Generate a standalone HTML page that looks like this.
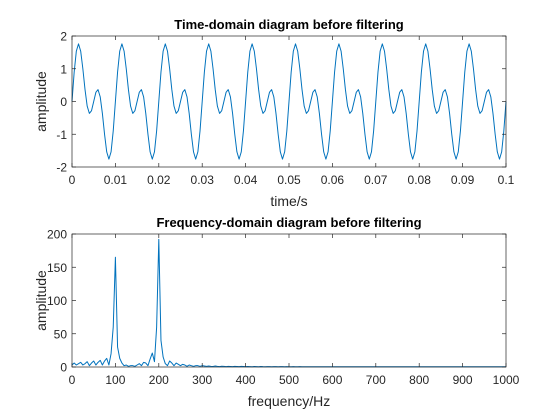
<!DOCTYPE html>
<html><head><meta charset="utf-8"><style>
html,body{margin:0;padding:0;background:#fff;}
svg{display:block;font-family:"Liberation Sans",Arial,sans-serif;}
</style></head><body>
<svg id="fig" width="560" height="420" viewBox="0 0 560 420">
<rect x="0" y="0" width="560" height="420" fill="#fff"/>
<g id="top"></g>
<g id="bot"></g>
</svg>
<script>
// Time-domain data (sample step 0.0005 s)
const timeStep = 0.0005;
const timeValues = [
0,0.897,1.539,1.760,1.539,1,0.363,-0.142,-0.363,-0.279,0,0.279,0.363,0.142,-0.363,-1,-1.539,-1.760,-1.539,-0.897,
0,0.897,1.539,1.760,1.539,1,0.363,-0.142,-0.363,-0.279,0,0.279,0.363,0.142,-0.363,-1,-1.539,-1.760,-1.539,-0.897,
0,0.897,1.539,1.760,1.539,1,0.363,-0.142,-0.363,-0.279,0,0.279,0.363,0.142,-0.363,-1,-1.539,-1.760,-1.539,-0.897,
0,0.897,1.539,1.760,1.539,1,0.363,-0.142,-0.363,-0.279,0,0.279,0.363,0.142,-0.363,-1,-1.539,-1.760,-1.539,-0.897,
0,0.897,1.539,1.760,1.539,1,0.363,-0.142,-0.363,-0.279,0,0.279,0.363,0.142,-0.363,-1,-1.539,-1.760,-1.539,-0.897,
0,0.897,1.539,1.760,1.539,1,0.363,-0.142,-0.363,-0.279,0,0.279,0.363,0.142,-0.363,-1,-1.539,-1.760,-1.539,-0.897,
0,0.897,1.539,1.760,1.539,1,0.363,-0.142,-0.363,-0.279,0,0.279,0.363,0.142,-0.363,-1,-1.539,-1.760,-1.539,-0.897,
0,0.897,1.539,1.760,1.539,1,0.363,-0.142,-0.363,-0.279,0,0.279,0.363,0.142,-0.363,-1,-1.539,-1.760,-1.539,-0.897,
0,0.897,1.539,1.760,1.539,1,0.363,-0.142,-0.363,-0.279,0,0.279,0.363,0.142,-0.363,-1,-1.539,-1.760,-1.539,-0.897,
0,0.897,1.539,1.760,1.539,1,0.363,-0.142,-0.363,-0.279,0,0.279,0.363,0.142,-0.363,-1,-1.539,-1.760,-1.539,-0.897,
0];
const timeXTicks = [0,0.01,0.02,0.03,0.04,0.05,0.06,0.07,0.08,0.09,0.1];
const timeYTicks = [-2,-1,0,1,2];
// Frequency-domain data (step 5 Hz)
const freqStep = 5;
const freqValues = [
3,6,3,5,7,3,5,8,2,6,9,3,7,10,3,9,13,3,20,60,
165,30,13,6,2,3,1,2,2,1,3,5,2,7,6,2,12,21,8,60,
192,40,15,5,2,9,6,2,6,4,2,4,3,1,3,2,1,2,2,1,
2,1.5,1,1.5,1,0.8,1.5,1,0.6,1.2,1,0.6,1,0.8,0.5,1,0.8,0.5,0.9,0.7,
0.5,0.8,0.6,0.4,0.7,0.6,0.4,0.7,0.5,0.4,0.6,0.5,0.4,0.6,0.5,0.3,0.5,0.5,0.3,0.5,
0.4,0.3,0.5,0.4,0.3,0.5,0.4,0.3,0.4,0.4,0.3,0.4,0.4,0.3,0.4,0.4,0.3,0.4,0.3,0.3,
0.4,0.3,0.3,0.4,0.3,0.3,0.4,0.3,0.3,0.4,0.3,0.3,0.3,0.3,0.3,0.3,0.3,0.3,0.3,0.3,
0.3,0.3,0.3,0.3,0.3,0.3,0.3,0.3,0.3,0.3,0.3,0.3,0.3,0.3,0.3,0.3,0.3,0.3,0.3,0.3,
0.3,0.3,0.3,0.3,0.3,0.3,0.3,0.3,0.3,0.3,0.3,0.3,0.3,0.3,0.3,0.3,0.3,0.3,0.3,0.3,
0.3,0.3,0.3,0.3,0.3,0.3,0.3,0.3,0.3,0.3,0.3,0.3,0.3,0.3,0.3,0.3,0.3,0.3,0.3,0.3,
0.3];
const freqXTicks = [0,100,200,300,400,500,600,700,800,900,1000];
const freqYTicks = [0,50,100,150,200];

const NS = "http://www.w3.org/2000/svg";
function mk(parent, tag, attrs){
  const e = document.createElementNS(NS, tag);
  for (const k in attrs) e.setAttribute(k, attrs[k]);
  parent.appendChild(e);
  return e;
}
function drawAxes(g, box, xd, yd, xTicks, yTicks, title, xlabel, ylabel, xs, ys, prefix){
  const sx = v => box.x + (v - xd[0]) / (xd[1] - xd[0]) * box.w;
  const sy = v => box.y + box.h - (v - yd[0]) / (yd[1] - yd[0]) * box.h;
  const bg = mk(g, 'rect', {x:box.x, y:box.y, width:box.w, height:box.h, fill:'#fff'});
  
  
  let d = '';
  for (let i = 0; i < xs.length; i++) d += (i ? 'L' : 'M') + sx(xs[i]).toFixed(2) + ' ' + sy(ys[i]).toFixed(2);
  const line = mk(g, 'path', {d:d, fill:'none', stroke:'#0072BD', 'stroke-width':1, 'stroke-linejoin':'round'});
  
  
  const frame = mk(g, 'rect', {x:box.x, y:box.y, width:box.w, height:box.h, fill:'none', stroke:'#262626', 'stroke-width':0.7});
  
  
  xTicks.forEach(t => {
    const x = sx(t);
    mk(g, 'line', {x1:x, y1:box.y+box.h, x2:x, y2:box.y+box.h-4, stroke:'#262626', 'stroke-width':0.7});
    mk(g, 'line', {x1:x, y1:box.y, x2:x, y2:box.y+4, stroke:'#262626', 'stroke-width':0.7});
    const tx = mk(g, 'text', {x:x, y:box.y+box.h+17, 'text-anchor':'middle', 'font-size':12, fill:'#262626'});
    tx.textContent = String(t);
    
    
  });
  yTicks.forEach(t => {
    const y = sy(t);
    mk(g, 'line', {x1:box.x, y1:y, x2:box.x+4, y2:y, stroke:'#262626', 'stroke-width':0.7});
    mk(g, 'line', {x1:box.x+box.w, y1:y, x2:box.x+box.w-4, y2:y, stroke:'#262626', 'stroke-width':0.7});
    const ty = mk(g, 'text', {x:box.x-5, y:y+4.5, 'text-anchor':'end', 'font-size':12, fill:'#262626'});
    ty.textContent = String(t);
    
    
  });
  const tt = mk(g, 'text', {x:box.x+box.w/2, y:box.y-7, 'text-anchor':'middle', 'font-size':13, 'font-weight':'bold', fill:'#000'});
  tt.textContent = title;
  
  
  const xl = mk(g, 'text', {x:box.x+box.w/2, y:box.y+box.h+39, 'text-anchor':'middle', 'font-size':14, fill:'#262626'});
  xl.textContent = xlabel;
  
  
  const cy = box.y + box.h/2;
  const yl = mk(g, 'text', {x:46, y:cy, 'text-anchor':'middle', 'font-size':14, fill:'#262626', transform:'rotate(-90 46 '+cy+')'});
  yl.textContent = ylabel;
  
  
}
const tx = timeValues.map((v,i) => i*timeStep);
drawAxes(document.getElementById('top'), {x:72,y:36,w:434,h:131}, [0,0.1], [-2,2],
  timeXTicks, timeYTicks, 'Time-domain diagram before filtering', 'time/s', 'amplitude', tx, timeValues, 'time');
const fx = freqValues.map((v,i) => i*freqStep);
drawAxes(document.getElementById('bot'), {x:72,y:234,w:434,h:133}, [0,1000], [0,200],
  freqXTicks, freqYTicks, 'Frequency-domain diagram before filtering', 'frequency/Hz', 'amplitude', fx, freqValues, 'freq');
</script>
</body></html>
